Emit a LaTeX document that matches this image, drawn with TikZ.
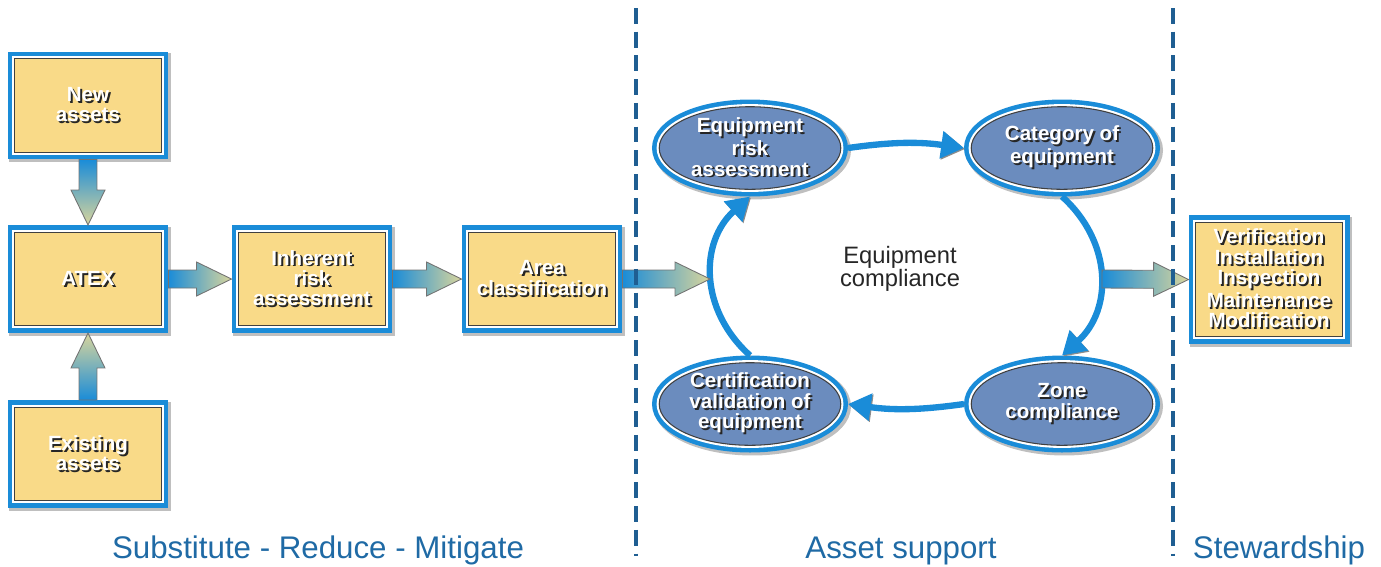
\documentclass[tikz,border=0pt]{standalone}
\usepackage{fontspec}
\setmainfont{Liberation Sans}
\usetikzlibrary{shapes.geometric,arrows.meta,calc}

\definecolor{ringblue}{HTML}{1A8CD8}
\definecolor{boxyellow}{HTML}{F9DA88}
\definecolor{ellfill}{HTML}{6B8CBE}
\definecolor{tiptan}{HTML}{D9D59C}
\definecolor{dashblue}{HTML}{1F5E92}
\definecolor{labelblue}{HTML}{1F6AA5}

% white lettering with a dark drop shadow
\newcommand{\shtxt}[1]{\leavevmode\rlap{\kern1.1pt\raisebox{-1.1pt}{\color{black!85}#1}}{\color{white}#1}}

% fat shaded arrow from #2 to #3
\newcommand{\blockarrow}[3][]{%
  \coordinate (hb) at ($(#3)!0.7cm!(#2)$);
  \path[barrow,#1] ($(#2)!0.18cm!90:(#3)$) -- ($(hb)!0.18cm!90:(#3)$) -- ($(hb)!0.34cm!90:(#3)$)
    -- (#3) -- ($(hb)!0.34cm!-90:(#3)$) -- ($(hb)!0.18cm!-90:(#3)$) -- ($(#2)!0.18cm!-90:(#3)$) -- cycle;
}

\tikzset{
  framed/.style={preaction={draw=black!25, line width=9pt, transform canvas={shift={(1.3pt,-1.3pt)}}},
    preaction={draw=ringblue, line width=8.2pt}, preaction={draw=white, line width=3pt},
    draw=black!75, line width=0.6pt, outer sep=4.1pt, align=center,
    font=\bfseries\fontsize{11.7}{11.6}\selectfont},
  infobox/.style={framed, rectangle, fill=boxyellow, inner sep=0pt,
    minimum width={3.22cm-8.2pt}, minimum height={2.16cm-8.2pt}},
  stage/.style={framed, ellipse, fill=ellfill, inner xsep=0pt, inner ysep=-1pt,
    minimum width={3.92cm-8.2pt}, minimum height={1.94cm-8.2pt}},
  barrow/.style={draw=black!55, line width=0.5pt, left color=ringblue, right color=tiptan},
  cycarrow/.style={draw=ringblue, line width=3.6pt, -{Triangle[length=13pt,width=15pt]},
    preaction={draw=black!45, transform canvas={shift={(0.6pt,-0.6pt)}}}},
  sepline/.style={draw=dashblue, line width=1.9pt, dash pattern=on 9pt off 4.5pt},
  phase/.style={text=labelblue, font=\fontsize{17.8}{20}\selectfont, anchor=base},
}

\begin{document}
\begin{tikzpicture}[x=0.02cm,y=-0.02cm]
  \useasboundingbox (0,0) rectangle (1381,566);

  \node[infobox] (new) at (88,105.5) {\shtxt{New}\\\shtxt{assets}};
  \node[infobox] (atex) at (88,279) {\shtxt{ATEX}};
  \node[infobox] (exist) at (88,454) {\shtxt{Existing}\\\shtxt{assets}};
  \node[infobox] (inh) at (312,279) {\shtxt{Inherent}\\\shtxt{risk}\\\shtxt{assessment}};
  \node[infobox] (area) at (542,279) {\shtxt{Area}\\\shtxt{classification}};
  \node[infobox, minimum height={2.58cm-8.2pt}] (stew) at (1269,279.5)
    {\shtxt{Verification}\\\shtxt{Installation}\\\shtxt{Inspection}\\\shtxt{Maintenance}\\\shtxt{Modification}};

  \node[stage] (era) at (750,148) {\shtxt{Equipment}\\\shtxt{risk}\\\shtxt{assessment}};
  \node[stage] (cat) at (1062,148) {\shtxt{Category of}\\\shtxt{equipment}};
  \node[stage] (zone) at (1062,404) {\shtxt{Zone}\\\shtxt{compliance}};
  \node[stage] (cert) at (750,404) {\shtxt{Certification}\\\shtxt{validation of}\\\shtxt{equipment}};

  \node[align=center, text=black!85, font=\fontsize{13.5}{12.8}\selectfont] (comp) at (900,269) {Equipment\\compliance};

  \coordinate (cycw) at (710,279);
  \coordinate (cyce) at (1102,279);

  % compliance cycle
  \draw[cycarrow] (era.east) to[bend left=8] (cat.west);
  \draw[cycarrow] (cat.south) to[out=-42,in=42,looseness=1.1] (zone.north);
  \draw[cycarrow] (zone.west) to[bend left=8] (cert.east);
  \draw[cycarrow] (cert.north) to[out=138,in=-138,looseness=1.1] (era.south);

  \blockarrow[top color=ringblue, bottom color=tiptan]{new.south}{atex.north}
  \blockarrow[bottom color=ringblue, top color=tiptan]{exist.north}{atex.south}
  \blockarrow{atex.east}{inh.west}
  \blockarrow{inh.east}{area.west}
  \blockarrow{area.east}{cycw}
  \blockarrow{cyce}{stew.west}

  \draw[sepline] (636,8) -- (636,556);
  \draw[sepline] (1173,8) -- (1173,556);

  \node[phase] (ph1) at (318,558) {Substitute - Reduce - Mitigate};
  \node[phase] (ph2) at (901,558) {Asset support};
  \node[phase] (ph3) at (1279,558) {Stewardship};
\end{tikzpicture}
\end{document}
